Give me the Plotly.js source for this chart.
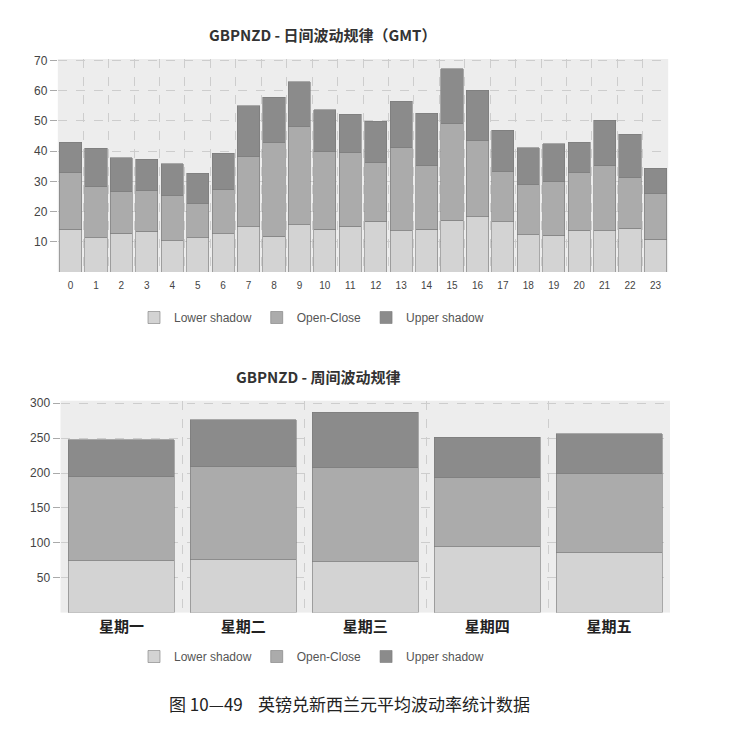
<!DOCTYPE html>
<html><head><meta charset="utf-8">
<script src="https://cdn.plot.ly/plotly-3.0.1.min.js"></script>
<style>html,body{margin:0;padding:0;background:#fff}#c{width:734px;height:734px}</style>
</head><body><div id="c"></div>
<script>
// Hourly (GMT) data
const hours = ["0","1","2","3","4","5","6","7","8","9","10","11","12","13","14","15","16","17","18","19","20","21","22","23"];
const hourLower = [14.2,11.3,12.8,13.5,10.3,11.3,12.7,15.0,11.9,15.7,14.2,15.2,16.8,13.6,14.2,17.2,18.3,16.6,12.4,12.2,13.9,13.6,14.4,10.8];
const hourOC    = [18.6,16.9,13.7,13.6,15.1,11.4,14.6,23.1,31.0,32.6,25.8,24.2,19.3,27.5,20.9,31.9,25.3,16.8,16.7,17.6,19.2,21.5,16.8,15.2];
const hourUpper = [10.1,12.7,11.3,10.2,10.5,10.0,12.0,17.0,15.0,14.6,13.7,12.8,13.8,15.5,17.5,18.2,16.5,13.5,12.1,12.7,9.9,15.1,14.4,8.3];
// Weekday data
const days = ["星期一","星期二","星期三","星期四","星期五"];
const dayLower = [74.0,75.5,72.6,94.5,86.0];
const dayOC    = [120.9,133.8,135.7,99.5,113.7];
const dayUpper = [52.6,66.9,78.7,57.4,56.5];
const seriesNames = ["Lower shadow","Open-Close","Upper shadow"];
const colors = ["#d3d3d3","#ababab","#8b8b8b"];

const W = 734;
const px = v => v / W;
const lineStyle = {color:"#7a7a7a", width:0.6};

const traces = [];
[hourLower, hourOC, hourUpper].forEach((vals,i)=>{
  traces.push({type:"bar", x:hours, y:vals, name:seriesNames[i], xaxis:"x", yaxis:"y",
    marker:{color:colors[i], line:lineStyle}, legend:"legend", hoverinfo:"y"});
});
[dayLower, dayOC, dayUpper].forEach((vals,i)=>{
  traces.push({type:"bar", x:days, y:vals, name:seriesNames[i], xaxis:"x2", yaxis:"y2",
    marker:{color:colors[i], line:lineStyle}, legend:"legend2", hoverinfo:"y"});
});

const tickFont = {family:"Liberation Sans, Arial, sans-serif", size:12, color:"#444"};
const gridCommon = {showgrid:true, gridcolor:"#cdcdcd", griddash:"dash", gridwidth:1, zeroline:false, showline:false};
const legendFont = {family:"Liberation Sans, Arial, sans-serif", size:12, color:"#555"};

const layout = {
  width:734, height:734,
  margin:{l:0,r:0,t:0,b:0},
  paper_bgcolor:"#ffffff",
  plot_bgcolor:"#ededed",
  barmode:"stack",
  bargap:0.13,
  showlegend:true,
  xaxis:Object.assign({}, gridCommon, {domain:[px(57.8), px(668.2)], anchor:"y", type:"category",
    tickson:"boundaries", ticks:"", tickfont:{family:"Liberation Sans, Arial, sans-serif", size:10, color:"#444"},
    ticklabelstandoff:6}),
  yaxis:Object.assign({}, gridCommon, {domain:[1-272/W, 1-59/W], anchor:"x", range:[0,70.5],
    tickvals:[10,20,30,40,50,60,70], ticks:"outside", ticklen:7, tickcolor:"#aaa", tickfont:tickFont}),
  xaxis2:Object.assign({}, gridCommon, {domain:[px(60.5), px(670)], anchor:"y2", type:"category",
    tickson:"boundaries", ticks:"", tickfont:{family:"Noto Sans CJK SC, sans-serif", size:15, color:"#222", weight:"bold"},
    ticklabelstandoff:3}),
  yaxis2:Object.assign({}, gridCommon, {domain:[1-612.6/W, 1-400.7/W], anchor:"x2", range:[0,303.7],
    tickvals:[50,100,150,200,250,300], ticks:"outside", ticklen:7, tickcolor:"#aaa", tickfont:tickFont}),
  legend:{orientation:"h", x:px(134), y:1-303/W, xanchor:"left", yanchor:"top",
    font:legendFont, bgcolor:"rgba(0,0,0,0)", traceorder:"normal"},
  legend2:{orientation:"h", x:px(134), y:1-642/W, xanchor:"left", yanchor:"top",
    font:legendFont, bgcolor:"rgba(0,0,0,0)", traceorder:"normal"},
  annotations:[
    {text:"<b>GBPNZD - 日间波动规律（GMT）</b>", xref:"paper", yref:"paper", x:px(322), y:1-35/W,
      showarrow:false, xanchor:"center", yanchor:"middle", font:{family:"Noto Sans CJK SC, sans-serif", size:15, color:"#333"}},
    {text:"<b>GBPNZD - 周间波动规律</b>", xref:"paper", yref:"paper", x:px(318), y:1-376/W,
      showarrow:false, xanchor:"center", yanchor:"middle", font:{family:"Noto Sans CJK SC, sans-serif", size:15, color:"#333"}},
    {text:"图 10—49    英镑兑新西兰元平均波动率统计数据", xref:"paper", yref:"paper", x:px(167), y:1-703/W,
      showarrow:false, xanchor:"left", yanchor:"middle", font:{family:"Noto Sans CJK SC, sans-serif", size:17, color:"#222"}}
  ]
};

Plotly.newPlot("c", traces, layout, {staticPlot:true});
</script>
</body></html>
